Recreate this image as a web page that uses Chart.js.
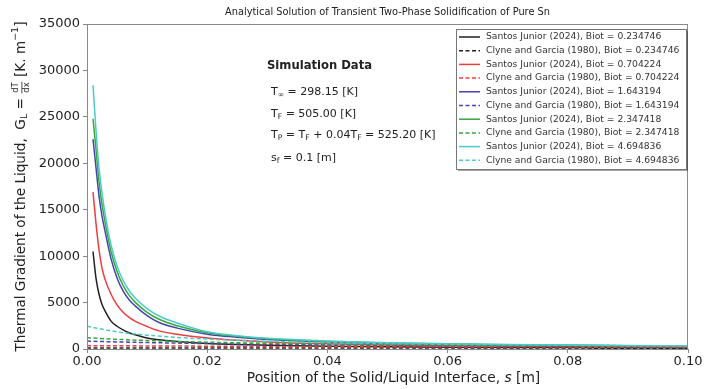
<!DOCTYPE html>
<html>
<head>
<meta charset="utf-8">
<script src="https://cdn.jsdelivr.net/npm/chart.js@4.4.0/dist/chart.umd.min.js"></script>
<style>
  html, body { margin: 0; background: #fff; }
  #wrap { width: 704px; height: 389px; }
</style>
</head>
<body>
<div id="wrap"><canvas id="chart"></canvas></div>
<script>
// posição da interface (m)
const sSantos = [0.001, 0.0015, 0.002, 0.0025, 0.003, 0.004, 0.005, 0.006, 0.007, 0.008, 0.01, 0.012, 0.015, 0.02, 0.025, 0.03, 0.04, 0.05, 0.06, 0.07, 0.08, 0.09, 0.1];
const sClyne = [0, 0.005, 0.01, 0.015, 0.02, 0.03, 0.04, 0.05, 0.06, 0.07, 0.08, 0.09, 0.1];

const biots = ['0.234746', '0.704224', '1.643194', '2.347418', '4.694836'];

// Santos Junior (2024)
const santos0234 = [10500, 7600, 5900, 4800, 4100, 3000, 2450, 2050, 1750, 1530, 1180, 1000, 800, 600, 480, 400, 300, 240, 200, 170, 150, 130, 120];
const santos0704 = [16900, 13500, 10700, 8700, 7500, 5900, 4750, 3950, 3400, 3000, 2420, 1950, 1580, 1180, 930, 760, 560, 440, 370, 320, 280, 250, 220];
const santos1643 = [22600, 19500, 16500, 14300, 12700, 9700, 7650, 6250, 5300, 4650, 3600, 2850, 2250, 1600, 1260, 1020, 760, 600, 500, 430, 370, 330, 300];
const santos2347 = [24800, 21500, 18000, 15600, 13700, 10500, 8350, 6850, 5800, 5050, 3950, 3200, 2500, 1750, 1370, 1100, 820, 650, 540, 460, 400, 360, 320];
const santos4694 = [28400, 23500, 19500, 16800, 14600, 11200, 8950, 7400, 6300, 5500, 4350, 3550, 2800, 1850, 1430, 1150, 870, 680, 570, 490, 430, 380, 340];

// Clyne and Garcia (1980)
const clyne0234 = [121, 119, 117, 115, 114, 110, 107, 104, 101, 98, 95, 93, 91];
const clyne0704 = [365, 347, 332, 318, 305, 282, 262, 245, 230, 216, 204, 194, 184];
const clyne1643 = [850, 765, 695, 635, 585, 505, 445, 400, 360, 330, 300, 280, 260];
const clyne2347 = [1210, 1040, 915, 815, 735, 615, 528, 463, 412, 371, 338, 310, 286];
const clyne4694 = [2450, 1850, 1490, 1250, 1070, 835, 685, 580, 505, 445, 400, 360, 330];

const xTicks = [0, 0.02, 0.04, 0.06, 0.08, 0.1];
const yTicks = [0, 5000, 10000, 15000, 20000, 25000, 30000, 35000];

const colors = ['#222222', '#f03c3c', '#4444b0', '#38a638', '#4ccaca'];
const santosAll = [santos0234, santos0704, santos1643, santos2347, santos4694];
const clyneAll = [clyne0234, clyne0704, clyne1643, clyne2347, clyne4694];

const FONT = '"DejaVu Sans", "Liberation Sans", sans-serif';

const datasets = [];
biots.forEach((b, i) => {
    datasets.push({
        label: 'Santos Junior (2024), Biot = ' + b,
        data: sSantos.map((s, k) => ({ x: s, y: santosAll[i][k] })),
        borderColor: colors[i],
        borderWidth: 1.5,
        pointRadius: 0,
        cubicInterpolationMode: 'monotone',
        dashed: false
    });
    datasets.push({
        label: 'Clyne and Garcia (1980), Biot = ' + b,
        data: sClyne.map((s, k) => ({ x: s, y: clyneAll[i][k] })),
        borderColor: colors[i],
        borderWidth: 1.5,
        borderDash: [4, 2.5],
        pointRadius: 0,
        cubicInterpolationMode: 'monotone',
        dashed: true
    });
});
// último desenhado por cima, como no matplotlib
datasets.forEach((d, i) => { d.order = datasets.length - i; });

// escreve texto com sub/sobrescritos
function richWidth(ctx, parts, size) {
    let w = 0;
    for (const p of parts) w += partWidth(ctx, p, size);
    return w;
}
function partFont(kind, size) {
    if (kind === 'sub' || kind === 'sup') return (size * 0.7) + 'px ' + FONT;
    if (kind === 'it') return 'italic ' + size + 'px ' + FONT;
    if (kind === 'b') return 'bold ' + size + 'px ' + FONT;
    return size + 'px ' + FONT;
}
function partWidth(ctx, p, size) {
    const [t, kind] = p;
    if (kind === 'frac') {
        ctx.font = (size * 0.62) + 'px ' + FONT;
        return Math.max(ctx.measureText(t[0]).width, ctx.measureText(t[1]).width) + 2;
    }
    ctx.font = partFont(kind, size);
    return ctx.measureText(t).width;
}
function rich(ctx, x, y, parts, size) {
    ctx.textBaseline = 'middle';
    ctx.textAlign = 'left';
    for (const p of parts) {
        const [t, kind] = p;
        const w = partWidth(ctx, p, size);
        if (kind === 'frac') {
            ctx.font = (size * 0.62) + 'px ' + FONT;
            ctx.textAlign = 'center';
            ctx.fillText(t[0], x + w / 2, y - size * 0.36);
            ctx.fillText(t[1], x + w / 2, y + size * 0.42);
            ctx.textAlign = 'left';
            ctx.fillRect(x + 0.5, y + 0.5, w - 1, 0.8);
        } else {
            ctx.font = partFont(kind, size);
            let dy = 0;
            if (kind === 'sub') dy = size * 0.28;
            if (kind === 'sup') dy = -size * 0.38;
            ctx.fillText(t, x, y + dy);
        }
        x += w;
    }
    return x;
}

const decorPlugin = {
    id: 'decor',
    afterDraw(chart) {
        const ctx = chart.ctx;
        const a = chart.chartArea;
        ctx.save();
        // moldura
        ctx.strokeStyle = '#8a8a8a';
        ctx.lineWidth = 1;
        ctx.strokeRect(a.left + 0.5, a.top + 0.5, a.right - a.left - 1, a.bottom - a.top);

        ctx.fillStyle = '#222';
        const cx = (a.left + a.right) / 2;

        // título
        ctx.font = '9.8px ' + FONT;
        ctx.textAlign = 'center';
        ctx.textBaseline = 'middle';
        ctx.fillText('Analytical Solution of Transient Two-Phase Solidification of Pure Sn', cx, 12);

        // eixo x
        const xl = [['Position of the Solid/Liquid Interface, ', 'n'], ['s', 'it'], [' [m]', 'n']];
        const xw = richWidth(ctx, xl, 13.8);
        rich(ctx, cx - xw / 2 + 6, 378, xl, 13.8);

        // eixo y (rodado)
        const yl = [['Thermal Gradient of the Liquid,  G', 'n'], ['L', 'sub'], [' = ', 'n'], [['dT', 'dx'], 'frac'],
                    [' [K. m', 'n'], ['\u22121', 'sup'], [']', 'n']];
        const yw = richWidth(ctx, yl, 13.6);
        ctx.save();
        ctx.translate(21, (a.top + a.bottom) / 2);
        ctx.rotate(-Math.PI / 2);
        rich(ctx, -yw / 2, 0, yl, 13.6);
        ctx.restore();

        // caixa de dados da simulação
        ctx.font = 'bold 11.6px ' + FONT;
        ctx.textAlign = 'left';
        ctx.fillText('Simulation Data', 267, 66);
        const fs = 11;
        rich(ctx, 271, 92, [['T', 'n'], ['\u221E', 'sub'], [' = 298.15 [K]', 'n']], fs);
        rich(ctx, 271, 114, [['T', 'n'], ['F', 'sub'], [' = 505.00 [K]', 'n']], fs);
        rich(ctx, 271, 135, [['T', 'n'], ['P', 'sub'], [' = T', 'n'], ['F', 'sub'], [' + 0.04T', 'n'], ['F', 'sub'], [' = 525.20 [K]', 'n']], fs);
        rich(ctx, 271, 158, [['s', 'n'], ['f', 'sub'], [' = 0.1 [m]', 'n']], fs);

        // legenda
        const lx = 456, ly = 29, lw = 230, lh = 140;
        ctx.fillStyle = 'rgba(0,0,0,0.35)';
        ctx.fillRect(lx + 2, ly + 2, lw, lh);
        ctx.fillStyle = '#fff';
        ctx.fillRect(lx, ly, lw, lh);
        ctx.strokeStyle = '#777';
        ctx.strokeRect(lx + 0.5, ly + 0.5, lw, lh);
        chart.data.datasets.forEach((d, i) => {
            const y = ly + 8 + i * 13.7;
            ctx.strokeStyle = d.borderColor;
            ctx.lineWidth = 1.5;
            ctx.setLineDash(d.dashed ? [4, 2.5] : []);
            ctx.beginPath();
            ctx.moveTo(lx + 3, y);
            ctx.lineTo(lx + 24, y);
            ctx.stroke();
            ctx.setLineDash([]);
            ctx.fillStyle = '#333';
            ctx.font = '9.2px ' + FONT;
            ctx.textBaseline = 'middle';
            ctx.fillText(d.label, lx + 30, y);
        });
        ctx.restore();
    }
};

new Chart(document.getElementById('chart'), {
    type: 'line',
    data: { datasets: datasets },
    options: {
        responsive: true,
        maintainAspectRatio: false,
        animation: false,
        layout: { padding: { left: 0, top: 24, right: 16, bottom: 0 } },
        plugins: {
            legend: { display: false },
            tooltip: { enabled: false }
        },
        scales: {
            x: {
                type: 'linear',
                min: 0,
                max: 0.1,
                afterBuildTicks: (scale) => { scale.ticks = xTicks.map(v => ({ value: v })); },
                afterFit: (scale) => { scale.height = 40; },
                ticks: {
                    color: '#222',
                    font: { size: 13, family: FONT },
                    padding: 1,
                    maxRotation: 0,
                    callback: (v) => Number(v).toFixed(2)
                },
                grid: { drawOnChartArea: false, drawTicks: true, tickLength: 4, color: '#8a8a8a' },
                border: { color: '#8a8a8a' }
            },
            y: {
                min: 0,
                max: 35000,
                afterBuildTicks: (scale) => { scale.ticks = yTicks.map(v => ({ value: v })); },
                afterFit: (scale) => { scale.width = 87; },
                ticks: {
                    color: '#222',
                    font: { size: 13, family: FONT },
                    padding: 3,
                    callback: (v) => String(v)
                },
                grid: { drawOnChartArea: false, drawTicks: true, tickLength: 4, color: '#8a8a8a' },
                border: { color: '#8a8a8a' }
            }
        }
    },
    plugins: [decorPlugin]
});
</script>
</body>
</html>
